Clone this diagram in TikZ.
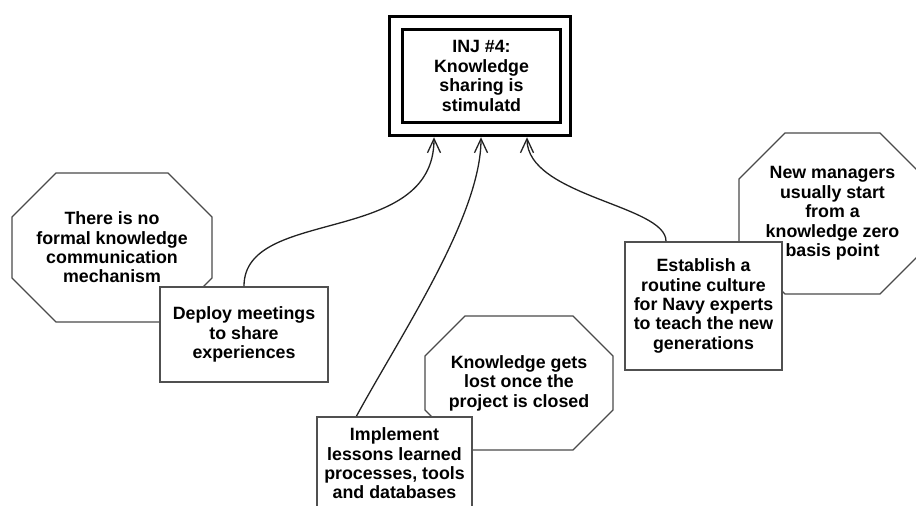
\documentclass[tikz,border=0pt]{standalone}
\usepackage{fontspec}
\setmainfont{Liberation Sans}
\usetikzlibrary{arrows.meta, calc}
\definecolor{cline}{HTML}{222222}
\definecolor{cbox}{HTML}{505050}
\definecolor{coct}{HTML}{4A4A4A}
\tikzset{
  every picture/.style={font=\bfseries\fontsize{17.8}{19.4}\selectfont, line width=1.3pt},
  box/.style={draw=cbox, fill=white, line width=1.8pt, align=center, inner sep=0pt},
  inj/.style={draw=black, fill=white, line width=3.5pt, align=center, inner sep=0pt},
  cloud/.style={align=center, inner sep=0pt, outer sep=0pt},
  arrow/.style={-{Straight Barb[length=14pt,width=13pt]}, draw=cline, line width=1.3pt},
}
\newcommand{\octa}[2]{%
  \draw[draw=coct, line width=1.2pt]
    ($(#1.north west)+(#2,0)$) -- ($(#1.north east)+(-#2,0)$) -- ($(#1.north east)+(0,-#2)$)
    -- ($(#1.south east)+(0,#2)$) -- ($(#1.south east)+(-#2,0)$) -- ($(#1.south west)+(#2,0)$)
    -- ($(#1.south west)+(0,#2)$) -- ($(#1.north west)+(0,-#2)$) -- cycle;}

\begin{document}
\begin{tikzpicture}[x=1pt, y=1pt]
  \useasboundingbox (0,0) rectangle (916,506);
  \clip (0,0) rectangle (916,506);
  \node[cloud, minimum width=200pt, minimum height=149pt] (nomech) at (112,258.5) {There is no\\formal knowledge\\communication\\mechanism};
  \octa{nomech}{44}
  \node[cloud, minimum width=188pt, minimum height=134pt] (lost) at (519,123) {Knowledge gets\\lost once the\\project is closed};
  \octa{lost}{40}
  \node[cloud, minimum width=187pt, minimum height=161pt] (zero) at (832.5,292.5) {New managers\\usually start\\from a\\knowledge zero\\basis point};
  \octa{zero}{46}
  \node[box, minimum width=168pt, minimum height=95pt] (meet) at (244,171.5) {Deploy meetings\\to share\\experiences};
  \node[box, minimum width=155pt, minimum height=93pt] (lesson) at (394.5,42.5) {Implement\\lessons learned\\processes, tools\\and databases};
  \node[box, minimum width=157pt, minimum height=128pt] (culture) at (703.5,200) {Establish a\\routine culture\\for Navy experts\\to teach the new\\generations};
  \node[inj, minimum width=181pt, minimum height=119pt] (injout) at (480,430) {};
  \node[inj, minimum width=158pt, minimum height=93pt] (inj) at (481.5,430) {INJ \#4:\\Knowledge\\sharing is\\stimulatd};
  \coordinate (in1) at ($(injout.south)+(-46,0)$);
  \coordinate (in2) at ($(injout.south)+(1,0)$);
  \coordinate (in3) at ($(injout.south)+(47,0)$);
  \draw[arrow] (meet.north) .. controls +(0,80) and +(0,-110) .. (in1);
  \draw[arrow] ($(lesson.north)+(-38,0)$) .. controls +(44,81) and +(0,-79) .. (in2);
  \draw[arrow] ($(culture.north)+(-37.5,0)$) .. controls +(0,36) and +(0,-59) .. (in3);
\end{tikzpicture}
\end{document}
